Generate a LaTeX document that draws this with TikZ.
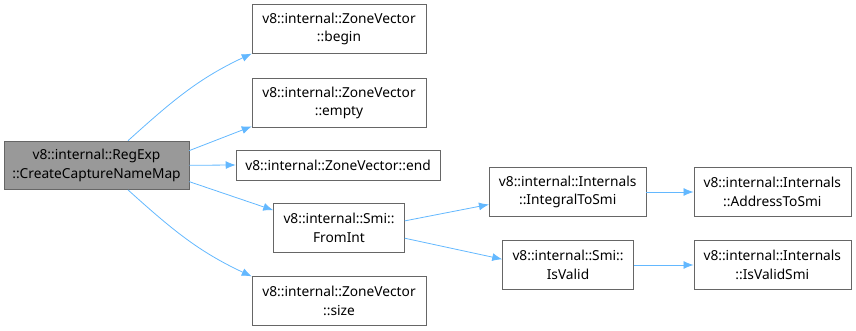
\documentclass[tikz,border=0pt]{standalone}
\usepackage{fontspec}
\setmainfont{Noto Sans}
\usetikzlibrary{arrows.meta}
\definecolor{edgeblue}{HTML}{63B8FF}
\tikzset{
  fn/.style={draw=black!60, fill=white, align=center, inner sep=0pt,
    minimum height=36.5pt, font=\fontsize{10.3}{14}\selectfont},
  cur/.style={fn, fill=black!40},
  call/.style={draw=edgeblue, line width=0.6pt, -{Latex[length=7.5pt,width=6pt]}},
}
\begin{document}
\begin{tikzpicture}[x=0.75pt, y=-0.75pt]
      \useasboundingbox (0,0) rectangle (856,331);
      \draw
        (96.5,165.3) node[cur, minimum width=138.75pt] (root) {v8::internal::RegExp\\::CreateCaptureNameMap}
        (339,29) node[fn, minimum width=130.5pt] (begin) {v8::internal::ZoneVector\\::begin}
        (339,103) node[fn, minimum width=130.5pt] (empty) {v8::internal::ZoneVector\\::empty}
        (338,165) node[fn, minimum width=153pt, minimum height=22.5pt] (end) {v8::internal::ZoneVector::end}
        (339,227.8) node[fn, minimum width=98.25pt] (fromint) {v8::internal::Smi::\\FromInt}
        (339,301) node[fn, minimum width=130.5pt] (size) {v8::internal::ZoneVector\\::size}
        (567.7,192) node[fn, minimum width=117.75pt] (integral) {v8::internal::Internals\\::IntegralToSmi}
        (568,265) node[fn, minimum width=98.25pt] (isvalid) {v8::internal::Smi::\\IsValid}
        (772.3,192) node[fn, minimum width=117.75pt] (address) {v8::internal::Internals\\::AddressToSmi}
        (772.3,265) node[fn, minimum width=117.75pt] (isvalidsmi) {v8::internal::Internals\\::IsValidSmi};
      \begin{scope}[call]
        \draw (root.38) to[out=42, in=205] (begin.south west);
        \draw (root.9) -- (empty.195);
        \draw (root.east) -- (end.west);
        \draw (root.-10) -- (fromint.165);
        \draw (root.-38) to[out=-42, in=155] (size.north west);
        \draw (fromint.6) -- (integral.189);
        \draw (fromint.-9) -- (isvalid.175);
        \draw (integral) -- (address);
        \draw (isvalid) -- (isvalidsmi);
      \end{scope}
    \end{tikzpicture}
\end{document}
